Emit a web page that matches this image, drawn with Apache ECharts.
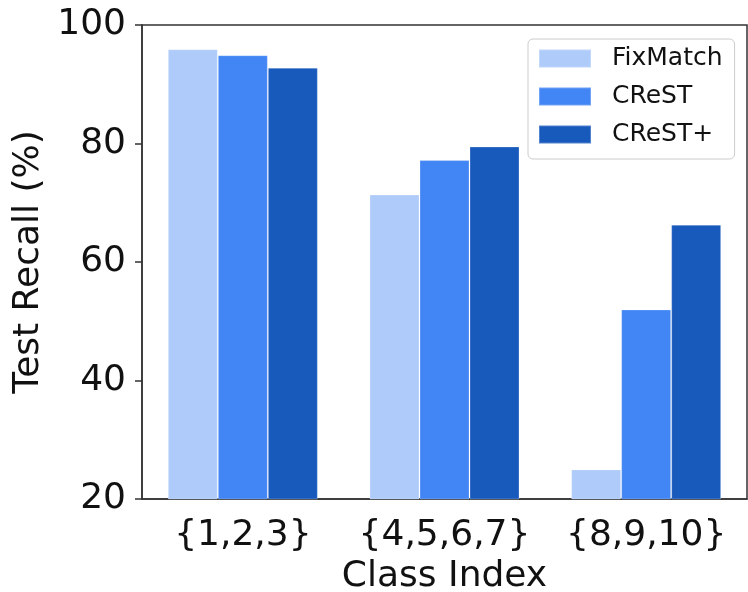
<!DOCTYPE html>
<html>
<head>
<meta charset="utf-8">
<script src="https://cdn.jsdelivr.net/npm/echarts@6/dist/echarts.min.js"></script>
<style>
  html, body { margin: 0; padding: 0; background: #fff; }
  #chart { width: 748px; height: 592px; }
</style>
</head>
<body>
<div id="chart"></div>
<script>
// Class groups along the x axis
const categories = ['{1,2,3}', '{4,5,6,7}', '{8,9,10}'];
// Per-group recall (%) for each method
const fixMatch = [95.9, 71.4, 25.0];
const crest = [94.9, 77.2, 52.0];
const crestPlus = [92.8, 79.5, 66.3];
// Y axis ticks
const yMin = 20, yMax = 100, yStep = 20;

const FONT = 'DejaVu Sans';
const colors = ['#aecbfa', '#4285f4', '#185abc'];

function barSeries(name, data, color) {
  return {
    name: name,
    type: 'bar',
    data: data,
    barWidth: 50,
    barGap: '0%',
    itemStyle: { color: color, borderColor: 'rgba(255,255,255,0.25)', borderWidth: 1 },
    emphasis: { disabled: true }
  };
}

const chart = echarts.init(document.getElementById('chart'), null, { renderer: 'canvas' });
chart.setOption({
  animation: false,
  backgroundColor: '#fff',
  textStyle: { fontFamily: FONT },
  grid: {
    left: 142, right: 1, top: 25, bottom: 93,
    containLabel: false,
    outerBoundsMode: 'none',
    show: true, borderColor: '#333', borderWidth: 1.5, backgroundColor: 'transparent'
  },
  legend: {
    left: 528, top: 39,
    orient: 'vertical',
    itemWidth: 52, itemHeight: 18, itemGap: 13,
    padding: [7, 12, 12, 10],
    borderColor: '#cccccc', borderWidth: 1, borderRadius: 5,
    backgroundColor: 'rgba(255,255,255,0.85)',
    icon: 'rect',
    textStyle: { fontFamily: FONT, fontSize: 25, color: '#111', lineHeight: 25, padding: [0, 0, 0, 16] },
    data: ['FixMatch', 'CReST', 'CReST+']
  },
  xAxis: {
    type: 'category',
    data: categories,
    name: 'Class Index',
    nameLocation: 'middle',
    nameGap: 54,
    nameTextStyle: { fontFamily: FONT, fontSize: 36, color: '#111' },
    axisLine: { lineStyle: { color: '#333', width: 1.5 } },
    axisTick: { alignWithLabel: true, length: 6, lineStyle: { color: '#333', width: 1.5 } },
    axisLabel: { fontFamily: FONT, fontSize: 36, color: '#111', margin: 19, interval: 0, hideOverlap: false },
    splitLine: { show: false }
  },
  yAxis: {
    type: 'value',
    min: yMin, max: yMax, interval: yStep,
    name: 'Test Recall (%)',
    nameLocation: 'middle',
    nameGap: 92,
    nameRotate: 90,
    nameTextStyle: { fontFamily: FONT, fontSize: 36, color: '#111' },
    axisLine: { show: true, lineStyle: { color: '#333', width: 1.5 } },
    axisTick: { show: true, length: 7, lineStyle: { color: '#333', width: 1.5 } },
    axisLabel: { fontFamily: FONT, fontSize: 36, color: '#111', margin: 16 },
    splitLine: { show: false }
  },
  series: [
    barSeries('FixMatch', fixMatch, colors[0]),
    barSeries('CReST', crest, colors[1]),
    barSeries('CReST+', crestPlus, colors[2])
  ]
});
</script>
</body>
</html>
